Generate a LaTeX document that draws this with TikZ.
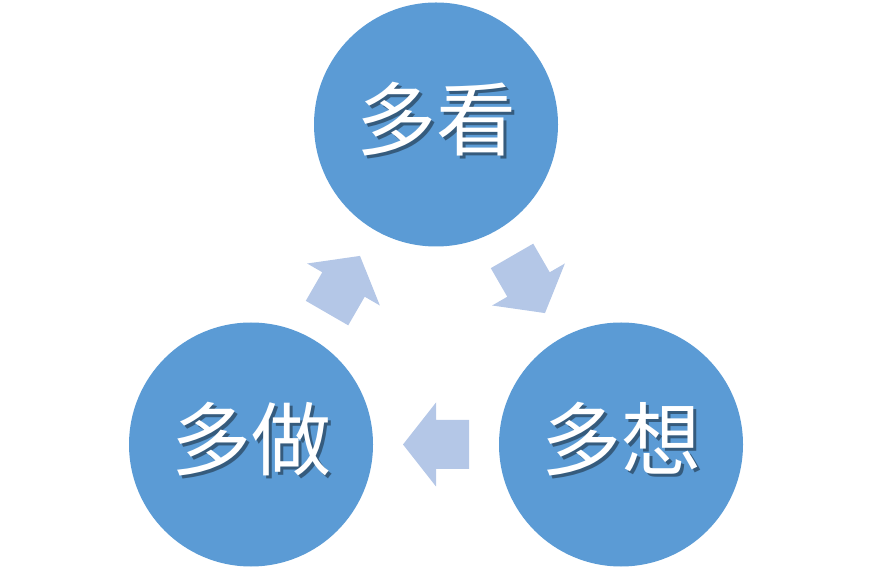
\documentclass[tikz,border=0pt]{standalone}
\usepackage{fontspec}
\newfontfamily\cjk{Noto Sans CJK SC}
\usetikzlibrary{positioning, calc}
\definecolor{discblue}{HTML}{5B9BD5}
\definecolor{arrowblue}{HTML}{B4C7E7}

\begin{document}
\begin{tikzpicture}[x=1pt, y=1pt,
    disc/.style={circle, fill=discblue, minimum size=244pt, inner sep=0pt},
    word/.style={text=white, font=\cjk\fontsize{80}{80}\selectfont, inner sep=0pt},
    wordshadow/.style={word, text=black!75!discblue, text opacity=0.55},
    blockarrow/.style={fill=arrowblue}]

  \useasboundingbox (0,0) rectangle (872,578);

  % ---------- circles ----------
  \node[disc] (kan)   at (436,453.5) {};
  \node[disc] (zuo)   at (251,133.5) {};
  \node[disc] (xiang) at (621,133.5) {};

  % ---------- block arrows (at the middle of each side) ----------
  \foreach \a/\b/\ang in {zuo/kan/60, kan/xiang/-60, xiang/zuo/180}
    \fill[blockarrow, shift={($(\a)!0.5!(\b)$)}, rotate=\ang]
      (-33,-24.5) -- (0,-24.5) -- (0,-42) -- (33,0)
      -- (0,42) -- (0,24.5) -- (-33,24.5) -- cycle;

  % ---------- words with soft shadow ----------
  \foreach \n/\t in {kan/多看, zuo/多做, xiang/多想} {
    \node[wordshadow] (\n-shadow) at ([shift={(3,2)}]\n) {\t};
    \node[word]       (\n-word)   at ([shift={(0,5)}]\n) {\t};
  }

\end{tikzpicture}
\end{document}
